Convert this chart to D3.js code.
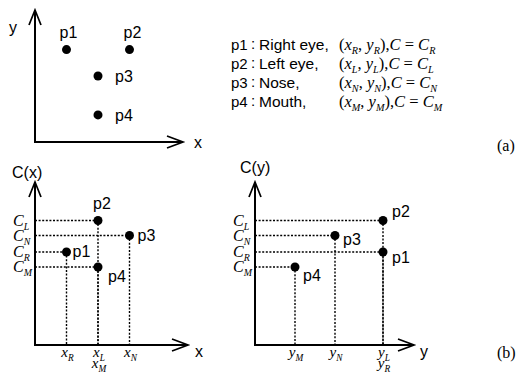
<!DOCTYPE html>
<html><head><meta charset="utf-8">
<script src="https://cdn.jsdelivr.net/npm/d3@7"></script>
<style>html,body{margin:0;padding:0;background:#fff}svg{display:block}</style>
</head><body>
<script>
// ---- data ----
const labels = ["p1", "p2", "p3", "p4"];
const names = ["Right eye", "Left eye", "Nose", "Mouth"];
const subs = ["R", "L", "N", "M"];
const faceX = [1, 3, 2, 2];          // panel (a) x
const faceY = [2.8, 2.8, 2.0, 0.82]; // panel (a) y
const projX = [1, 2, 3, 2];          // panel (b) x coordinate
const projY = [3.2, 3.2, 2.0, 1.0];  // panel (b) y coordinate
const cVals = [3.1, 4.15, 3.65, 2.6];// C value of each point

const W = 526, H = 372;
const svg = d3.select("body").append("svg").attr("width", W).attr("height", H);
const SANS = "'Liberation Sans', Arial, sans-serif";
const SERIF = "'Liberation Serif', 'Times New Roman', serif";

function arrowAxes(g, ox, oy, tipX, tipY) {
  const p = d3.path();
  p.moveTo(ox, tipY); p.lineTo(ox, oy); p.lineTo(tipX, oy);
  g.append("path").attr("d", p.toString()).attr("fill", "none").attr("stroke", "#000").attr("stroke-width", 2);
  const a = d3.path();
  a.moveTo(ox - 6, tipY + 15); a.lineTo(ox, tipY); a.lineTo(ox + 6, tipY + 15);
  a.moveTo(tipX - 16, oy - 6); a.lineTo(tipX, oy); a.lineTo(tipX - 16, oy + 6);
  g.append("path").attr("d", a.toString()).attr("fill", "none").attr("stroke", "#000").attr("stroke-width", 1.7);
}
function txt(g, x, y, s, size) {
  return g.append("text").attr("x", x).attr("y", y).attr("font-family", SANS)
    .attr("font-size", size || 16).attr("fill", "#000").text(s);
}
// math: parts = [[text, italic, sub]]
function math(g, x, y, parts, size, anchor) {
  const t = g.append("text").attr("x", x).attr("y", y).attr("font-family", SERIF)
    .attr("font-size", size).attr("fill", "#000").attr("text-anchor", anchor || "start")
    .attr("xml:space", "preserve");
  let down = false;
  parts.forEach(([s, it, sub]) => {
    const ts = t.append("tspan").text(s).attr("font-style", it ? "italic" : "normal");
    if (sub && !down) { ts.attr("dy", size * 0.27).attr("font-size", size * 0.62); down = true; }
    else if (sub) { ts.attr("font-size", size * 0.62); }
    else if (!sub && down) { ts.attr("dy", -size * 0.27); down = false; }
  });
  return t;
}
function dot(g, x, y) { g.append("circle").attr("cx", x).attr("cy", y).attr("r", 4.5).attr("fill", "#000"); }
function dotted(g, x1, y1, x2, y2) {
  g.append("line").attr("x1", x1).attr("y1", y1).attr("x2", x2).attr("y2", y2)
    .attr("stroke", "#000").attr("stroke-width", 1.4).attr("stroke-dasharray", "2,1.6");
}

// ---- panel (a) ----
const ga = svg.append("g");
const ax = d3.scaleLinear().domain([0, 4]).range([35, 161]);
const ay = d3.scaleLinear().domain([0, 4]).range([142, 10]);
arrowAxes(ga, ax(0), ay(0), 183, 10);
txt(ga, 9, 33, "y");
txt(ga, 194, 148, "x");
const aLab = [[-7, -12], [-6, -12], [17, 6], [17, 6]];
labels.forEach((l, i) => {
  dot(ga, ax(faceX[i]), ay(faceY[i]));
  txt(ga, ax(faceX[i]) + aLab[i][0], ay(faceY[i]) + aLab[i][1], l);
});
// legend
labels.forEach((l, i) => {
  const y = 50 + i * 19;
  txt(ga, 231, y, l, 15);
  txt(ga, 251, y - 1, ":", 15);
  txt(ga, 259, y, names[i] + ",", 15.5);
  const s = subs[i];
  math(ga, 339, y, [["(", 0, 0], ["x", 1, 0], [s, 1, 1], [", ", 0, 0], ["y", 1, 0], [s, 1, 1], ["),", 0, 0],
    ["C", 1, 0], [" = ", 0, 0], ["C", 1, 0], [s, 1, 1]], 16.5);
});
math(ga, 497, 151, [["(a)", 0, 0]], 16);

// ---- panel (b) left: C(x) ----
const gb = svg.append("g");
const bx = d3.scaleLinear().domain([0, 4]).range([35, 161]);
const bc = d3.scaleLinear().domain([0, 5]).range([345, 195]);
arrowAxes(gb, bx(0), bc(0), 188, 182);
txt(gb, 12, 178, "C(x)");
txt(gb, 195, 357, "x");
const lLab = [[6, 5], [-5, -12], [8, 5], [10, 15]];
labels.forEach((l, i) => {
  const X = bx(projX[i]), Y = bc(cVals[i]);
  dotted(gb, bx(0), Y, X, Y);
  dotted(gb, X, Y, X, bc(0));
});
labels.forEach((l, i) => {
  const X = bx(projX[i]), Y = bc(cVals[i]);
  dot(gb, X, Y);
  txt(gb, X + lLab[i][0], Y + lLab[i][1], l);
  math(gb, 13, Y + 5, [["C", 1, 0], [subs[i], 1, 1]], 16);
});

// ---- panel (b) right: C(y) ----
const gc = svg.append("g");
const by = d3.scaleLinear().domain([0, 4]).range([255, 415]);
arrowAxes(gc, by(0), bc(0), 414, 182);
txt(gc, 240, 173, "C(y)");
txt(gc, 420, 357, "y");
const rLab = [[9, 11], [9, -4], [8, 9], [8, 14]];
labels.forEach((l, i) => {
  const X = by(projY[i]), Y = bc(cVals[i]);
  dotted(gc, by(0), Y, X, Y);
  dotted(gc, X, Y, X, bc(0));
});
labels.forEach((l, i) => {
  const X = by(projY[i]), Y = bc(cVals[i]);
  dot(gc, X, Y);
  txt(gc, X + rLab[i][0], Y + rLab[i][1], l);
  math(gc, 233, Y + 5, [["C", 1, 0], [subs[i], 1, 1]], 16);
});
math(gc, 497, 358, [["(b)", 0, 0]], 16);

// ---- tick labels under axes (stacked when coordinates coincide) ----
function ticks(g, scale, vals, letter) {
  const groups = d3.group(d3.range(vals.length), i => vals[i]);
  groups.forEach((idx, v) => {
    idx.sort((a, b) => cVals[b] - cVals[a]);
    idx.forEach((i, k) => {
      math(g, scale(v) + 1, 357 + k * 11, [[letter, 1, 0], [subs[i], 1, 1]], 15, "middle");
    });
  });
}
ticks(gb, bx, projX, "x");
ticks(gc, by, projY, "y");
</script>
</body></html>
